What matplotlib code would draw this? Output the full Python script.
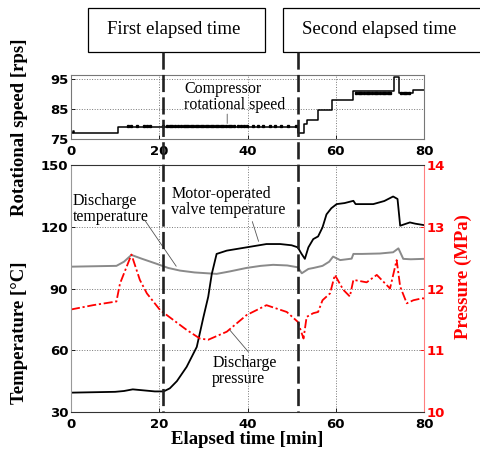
import matplotlib
matplotlib.use("Agg")
import matplotlib.pyplot as plt
from matplotlib.patches import Rectangle
from matplotlib.lines import Line2D
import matplotlib.transforms as mtransforms

SERIF = "Liberation Serif"
SANS = "DejaVu Sans"

# compressor rotational speed (step levels)
spd_t = [0, 0.4, 0.7, 10.7, 51.5, 52.7, 53.4, 56.0, 59.1, 63.8, 73.3, 74.3, 77.6, 80]
spd_v = [77.1, 77.8, 77.1, 78.9, 76.9, 80.2, 81.5, 84.9, 88.0, 91.1, 95.8, 90.5, 91.3, 91.3]
# short flicker blips above the 79 rps level and below the 91 rps level
blip_lo_t = [13.0, 13.7, 14.9, 16.5, 17.2, 17.9, 20.9, 21.7, 22.5, 23.0, 23.6, 24.2, 24.9,
             25.5, 26.0, 26.6, 27.1, 27.7, 28.3, 28.8, 29.4, 30.0, 30.5, 31.1, 31.7, 32.2,
             32.8, 33.4, 34.0, 34.5, 35.1, 35.7, 36.3, 37.0, 37.8, 38.5, 39.1, 39.8, 41.3,
             42.4, 43.6, 45.1, 46.2, 47.7, 49.2, 51.1]
blip_hi_t = [64.6, 65.2, 65.8, 66.4, 67.0, 67.6, 68.2, 68.8, 69.4, 70.0, 70.6, 71.2,
             71.8, 72.4, 74.8, 75.4, 76.0, 76.6]

# motor-operated valve temperature [C]
valve_t = [0, 5, 10, 12, 14, 16, 19, 21, 22.4, 24, 26.2, 28.5, 30, 31.1, 31.9, 33.0, 35.3,
           39.8, 44.3, 47.4, 50, 51.4, 52.2, 53.0, 53.8, 54.9, 56.0, 57.0, 57.9, 59, 60.2,
           62, 64, 64.5, 66, 68.5, 71, 73, 74.0, 74.6, 76.8, 78, 80]
valve_v = [39.4, 39.6, 39.8, 40.2, 41.0, 40.6, 40.0, 40.0, 41.5, 45, 51.9, 61.6, 76, 86, 97,
           106.8, 108.4, 110, 111.6, 111.6, 111, 110, 107, 104.4, 110, 114, 115.3, 119.7,
           126, 129, 131, 131.5, 132.6, 131, 131, 131, 132.5, 134.7, 133.5, 120.5, 122.1,
           121.5, 120.8]

# discharge temperature [C]
dtemp_t = [0, 5, 10.3, 12, 13.7, 16, 19.4, 22, 24.7, 28, 33, 36, 39.8, 43, 45.8, 49, 51.4,
           52.3, 53.8, 55, 57, 58.5, 59.4, 61, 63.6, 64, 66, 70, 73, 74.2, 75.3, 77, 80]
dtemp_v = [100.6, 100.8, 101, 103, 106.3, 104.5, 102, 100, 98.7, 97.8, 97.1, 98.3, 100,
           101, 101.5, 101.2, 100.3, 97.4, 99.5, 100, 101, 103, 105.5, 103.8, 104.5, 106.8,
           106.8, 107, 107.6, 109.5, 104.4, 104.2, 104.4]

# discharge pressure [MPa]
pres_t = [0, 5, 10.3, 11.1, 13.7, 15.6, 17.2, 20.2, 23.2, 26.2, 29.2, 31.1, 35.3, 39.8,
          44.3, 48.9, 51.4, 52.7, 53.4, 54.9, 56.0, 57, 58.7, 59.8, 61.7, 63.2, 64, 67,
          69.3, 72.3, 73.8, 74.6, 76.1, 77.6, 79.5, 80]
pres_v = [11.66, 11.73, 11.79, 12.08, 12.55, 12.14, 11.92, 11.65, 11.49, 11.33, 11.19,
          11.17, 11.30, 11.57, 11.73, 11.62, 11.46, 11.19, 11.54, 11.60, 11.62, 11.81,
          11.92, 12.22, 11.98, 11.87, 12.14, 12.1, 12.22, 12.0, 12.46, 12.03, 11.76, 11.81,
          11.84, 11.84]

event_t = [20.8, 51.5]
event_lbl = ["First elapsed time", "Second elapsed time"]

W, H = 480, 455
fig = plt.figure(figsize=(W/100, H/100), dpi=100)

def fx(px): return px / W
def fy(py): return 1 - py / H

ax1 = fig.add_axes([fx(71), fy(139), fx(424) - fx(71), fy(75) - fy(139)])
ax2 = fig.add_axes([fx(71), fy(412), fx(424) - fx(71), fy(165) - fy(412)])
ax3 = ax2.twinx()

tick_kw = dict(direction="in", length=3, width=0.6, labelsize=9.5, pad=2)
ann_fs = 11.5
lab_fs = 13.5

# ---- top: compressor speed ----
ax1.plot(spd_t, spd_v, color="black", lw=1.1, drawstyle="steps-post")
ax1.plot(blip_lo_t, [79.5] * len(blip_lo_t), "s", color="black", ms=1.4)
ax1.plot(blip_hi_t, [90.6] * len(blip_hi_t), "s", color="black", ms=1.8)
ax1.set_xlim(0, 80); ax1.set_ylim(75, 96.5)
ax1.set_xticks([0, 20, 40, 60, 80]); ax1.set_yticks([75, 85, 95])
ax1.grid(True, ls=":", color="#777", lw=0.7)
ax1.text(25.6, 94.6, "Compressor\nrotational speed", family=SERIF, fontsize=ann_fs,
         va="top", ha="left", linespacing=1.0)
ax1.annotate("", xy=(35.4, 79.3), xytext=(35.4, 84.3),
             arrowprops=dict(arrowstyle="-", color="#555", lw=0.6))

# ---- bottom: temperatures and pressure ----
ax2.plot(dtemp_t, dtemp_v, color="#8a8a8a", lw=1.4)
ax2.plot(valve_t, valve_v, color="black", lw=1.3)
ax3.plot(pres_t, pres_v, color="red", lw=1.3, ls=(0, (5, 1.5, 1.2, 1.5)))
ax2.set_xlim(0, 80); ax2.set_ylim(30, 150)
ax3.set_ylim(10, 14)
ax2.set_xticks([0, 20, 40, 60, 80]); ax2.set_yticks([30, 60, 90, 120, 150])
ax3.set_yticks([10, 11, 12, 13, 14])
ax2.grid(True, ls=":", color="#777", lw=0.7)

ax2.text(0.4, 136.5, "Discharge\ntemperature", family=SERIF, fontsize=ann_fs,
         va="top", ha="left", linespacing=1.0)
ax2.annotate("", xy=(24.2, 99.7), xytext=(16.3, 124.5),
             arrowprops=dict(arrowstyle="-", color="#555", lw=0.6))
ax2.text(22.7, 140.0, "Motor-operated\nvalve temperature", family=SERIF, fontsize=ann_fs,
         va="top", ha="left", linespacing=1.0)
ax2.annotate("", xy=(42.7, 111.6), xytext=(40.9, 123.8),
             arrowprops=dict(arrowstyle="-", color="#555", lw=0.6))
ax3.text(32.0, 10.93, "Discharge\npressure", family=SERIF, fontsize=ann_fs,
         va="top", ha="left", linespacing=1.0)
ax3.annotate("", xy=(35.6, 11.36), xytext=(40.6, 10.94),
             arrowprops=dict(arrowstyle="-", color="#555", lw=0.6))

for ax in (ax1, ax2):
    ax.tick_params(axis="both", **tick_kw)
    ax.tick_params(axis="x", pad=4)
    for lab in ax.get_xticklabels() + ax.get_yticklabels():
        lab.set_fontweight("bold"); lab.set_family(SANS)
ax3.tick_params(axis="y", colors="red", **tick_kw)
for lab in ax3.get_yticklabels():
    lab.set_fontweight("bold"); lab.set_family(SANS)

for s in ax1.spines.values():
    s.set_color("#777"); s.set_linewidth(0.8)
for name, s in ax3.spines.items():
    s.set_linewidth(0.8)
    s.set_color({"left": "#999", "right": "#ff8080"}.get(name, "#333"))
for s in ax2.spines.values():
    s.set_visible(False)

ax2.set_xlabel("Elapsed time [min]", family=SERIF, fontsize=lab_fs, fontweight="bold",
               labelpad=0)
fig.text(fx(20), fy(127), "Rotational speed [rps]", family=SERIF, fontsize=lab_fs,
         fontweight="bold", rotation=90, ha="center", va="center")
fig.text(fx(20), fy(333), "Temperature [°C]", family=SERIF, fontsize=lab_fs,
         fontweight="bold", rotation=90, ha="center", va="center")
fig.text(fx(463), fy(277), "Pressure (MPa)", family=SERIF, fontsize=lab_fs, color="red",
         fontweight="bold", rotation=90, ha="center", va="center")

# ---- event markers: boxes and dashed lines ----
trans = mtransforms.blended_transform_factory(ax2.transData, fig.transFigure)
box_px = [(88, 265), (283, 495)]
for t, lbl, (x0, x1) in zip(event_t, event_lbl, box_px):
    fig.add_artist(Line2D([t, t], [fy(52), fy(412)], transform=trans, color="#222",
                          lw=1.9, ls=(0, (6.5, 2.0))))
    fig.add_artist(Rectangle((fx(x0), fy(52)), fx(x1) - fx(x0), fy(8) - fy(52),
                             transform=fig.transFigure, fill=False, ec="black", lw=0.9))
    fig.text(fx(x0 + 19), fy(29), lbl, family=SERIF, fontsize=13.5, ha="left", va="center")

fig.savefig("out.png", dpi=100)
